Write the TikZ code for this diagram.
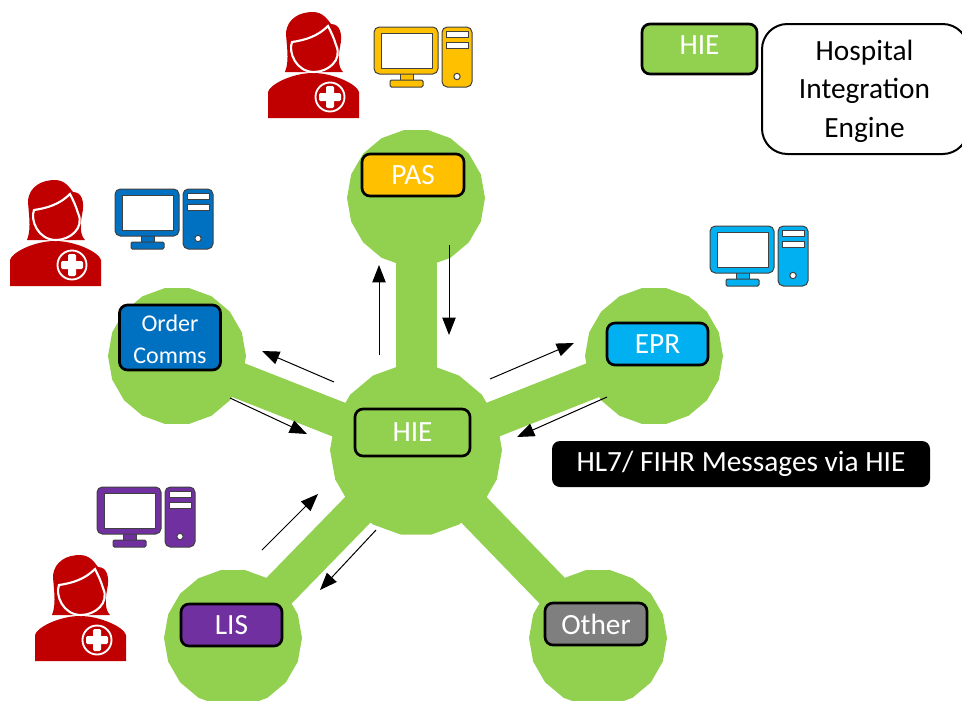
\documentclass[tikz,border=0pt]{standalone}
\usepackage{fontspec}
\setmainfont{Carlito}
\usetikzlibrary{shapes.geometric,arrows.meta}
\definecolor{hiegreen}{HTML}{92D050}
\definecolor{docred}{HTML}{C00000}
\definecolor{pasyellow}{HTML}{FFC000}
\definecolor{ocblue}{HTML}{0070C0}
\definecolor{eprblue}{HTML}{00B0F0}
\definecolor{lispurple}{HTML}{7030A0}
\definecolor{othergrey}{HTML}{7F7F7F}
\tikzset{
  disc/.style={regular polygon,regular polygon sides=18,fill=hiegreen,draw=none,inner sep=0pt,minimum size=#1*0.75pt},
  spoke/.style={hiegreen,line width=#1*0.75pt},
  sysbox/.style={draw=black,line width=2pt,rounded corners=6pt,text=white,align=center,inner sep=0pt,font=\fontsize{22}{26}\selectfont,minimum width=#1*0.75pt},
  msg/.style={-{Triangle[length=13pt,width=10pt]},line width=0.75pt,black},
  doctor/.pic={
    \fill[docred] (17,60) .. controls (22,48) and (18,30) .. (18,20)
      .. controls (20,6) and (32,0) .. (45,0)
      .. controls (55,0) and (60,8) .. (63,12)
      .. controls (72,12) and (75,22) .. (72,35)
      .. controls (70,45) and (70,55) .. (75,60)
      -- (60,60) -- (30,60) -- cycle;
    \fill[docred] (0,106) -- (0,80) .. controls (2,72) and (25,61) .. (45,61)
      .. controls (65,61) and (89,72) .. (91,80) -- (91,106) -- cycle;
    \draw[white,line width=1.6pt] (60,14) .. controls (50,24) and (38,28) .. (24,30)
      .. controls (20,40) and (28,60) .. (46,60)
      .. controls (60,60) and (75,48) .. (68,33)
      .. controls (66,26) and (63,20) .. (60,14) -- cycle;
    \draw[white,line width=1.4pt] (62,85) circle (14.5);
    \fill[white,rounded corners=1pt] (58,74) rectangle (66,96);
    \fill[white,rounded corners=1pt] (51,81) rectangle (73,89);
  },
  computer/.pic={
    \begin{scope}[fill=#1,draw=black!75,line width=0.75pt]
      \filldraw (26,46) rectangle (39,54);
      \filldraw[rounded corners=1pt] (16,53) rectangle (49,60);
      \filldraw[rounded corners=4pt] (0,0) rectangle (64,47);
      \filldraw[fill=white] (7,6) rectangle (58,41);
      \filldraw[rounded corners=4pt] (68,0) rectangle (98,60);
      \filldraw[fill=white] (72,4) rectangle (94,10);
      \filldraw[fill=white] (72,15) rectangle (94,21);
      \filldraw[fill=white] (83,49.5) circle (3.2);
    \end{scope}
  }
}
\begin{document}
\begin{tikzpicture}[x=0.75pt,y=-0.75pt]
\clip (0,0) rectangle (962,700);
% discs
\node[disc=172] (hub) at (416,450) {};
\node[disc=138] (pasd) at (416,198) {};
\node[disc=138] (ocd) at (177,356) {};
\node[disc=138] (eprd) at (654,356) {};
\node[disc=138] (lisd) at (233,638) {};
\node[disc=138] (othd) at (598,638) {};
% spokes
\draw[spoke=41] (hub.center) -- (pasd.center);
\draw[spoke=36] (hub.center) -- (ocd.center);
\draw[spoke=36] (hub.center) -- (eprd.center);
\draw[spoke=36] (hub.center) -- (lisd.center);
\draw[spoke=36] (hub.center) -- (othd.center);
% boxes
\node[sysbox=102,fill=pasyellow,minimum height=42*0.75pt] (pas) at (413,175) {\raisebox{-1.2pt}{PAS}};
\node[sysbox=101,fill=ocblue,minimum height=65*0.75pt,font=\fontsize{18}{23.5}\selectfont] (oc) at (170,337.5) {\rule{0pt}{15pt}Order\\Comms};
\node[sysbox=101,fill=eprblue,minimum height=42*0.75pt] (epr) at (657.5,344) {\raisebox{-1.2pt}{EPR}};
\node[sysbox=115,fill=hiegreen,minimum height=47*0.75pt] (hie) at (412.5,432.5) {HIE};
\node[sysbox=101,fill=lispurple,minimum height=42*0.75pt] (lis) at (231.5,625) {\raisebox{-1.2pt}{LIS}};
\node[sysbox=102,fill=othergrey,minimum height=42*0.75pt] (oth) at (596,624) {Other};
\node[sysbox=115,fill=hiegreen,minimum height=50*0.75pt,text depth=6pt] (leg) at (699.5,49) {HIE};
\node[draw=black,line width=1.5pt,rounded corners=19pt,fill=white,minimum width=206*0.75pt,minimum height=130*0.75pt,inner sep=0pt] (legbox) at (865,89) {};
\node[align=center,inner sep=0pt,font=\fontsize{22}{29}\selectfont] (legtext) at (864.5,91) {Hospital\\Integration\\Engine};
\node[fill=black,text=white,rounded corners=6pt,minimum width=378*0.75pt,minimum height=46*0.75pt,inner sep=0pt,font=\fontsize{22}{26}\selectfont] (hl7) at (741,464) {\raisebox{-1pt}{HL7/ FIHR Messages via HIE}};
% message arrows
\coordinate (a1s) at (379,355); \coordinate (a1e) at (379,265);
\coordinate (a2s) at (449,245); \coordinate (a2e) at (449,335);
\coordinate (a3s) at (334,382); \coordinate (a3e) at (262,351);
\coordinate (a4s) at (230,398); \coordinate (a4e) at (307,434);
\coordinate (a5s) at (490,379); \coordinate (a5e) at (574,343);
\coordinate (a6s) at (607,397); \coordinate (a6e) at (517,437);
\coordinate (a7s) at (262,550); \coordinate (a7e) at (318,494);
\coordinate (a8s) at (376,530); \coordinate (a8e) at (320,590);
\foreach \n in {1,...,8} \draw[msg] (a\n s) -- (a\n e);
% icons
\pic at (268,12) {doctor};
\pic at (10,180) {doctor};
\pic at (35,555) {doctor};
\pic at (374,27) {computer=pasyellow};
\pic at (115,189) {computer=ocblue};
\pic at (710,226) {computer=eprblue};
\pic at (97,487) {computer=lispurple};
\end{tikzpicture}
\end{document}
